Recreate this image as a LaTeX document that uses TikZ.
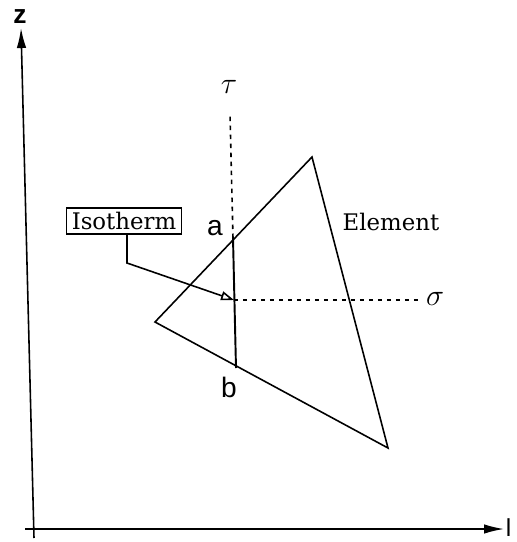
\documentclass[tikz,border=0pt]{standalone}
\usepackage{fontspec}
\setmainfont{DejaVu Serif}
\setsansfont{Liberation Sans}
\usetikzlibrary{arrows.meta,positioning}

\begin{document}
\begin{tikzpicture}[
        x=0.02cm, y=-0.02cm,
        line width=0.9pt,
        axis/.style={-{Latex[length=4mm,width=1.9mm]}},
        guide/.style={dash pattern=on 0.9mm off 0.9mm},
        leader/.style={-{Triangle[open,length=2.6mm,width=1.8mm]}},
        tag/.style={
            draw,
            line width=1pt,
            inner xsep=3pt,
            inner ysep=2.5pt,
            font=\fontsize{13}{15}\selectfont
        },
        ptlabel/.style={font=\sffamily\fontsize{16}{18}\selectfont},
        greek/.style={font=\fontsize{16}{18}\selectfont}
    ]
    \useasboundingbox (0,0) rectangle (517,542);

    % axes
    \coordinate (zfoot) at (34,538);
    \coordinate (ztip) at (21,28);
    \coordinate (lfoot) at (25,529);
    \coordinate (ltip) at (504,529);
    \draw[axis] (zfoot) -- (ztip);
    \draw[axis] (lfoot) -- (ltip);
    \node[ptlabel, font=\sffamily\bfseries\fontsize{15}{18}\selectfont] (zlabel) at (20,17) {z};
    \node[font=\sffamily\fontsize{14}{16}\selectfont, anchor=base east, inner sep=1pt] (llabel) at (514,536) {l};

    % element
    \coordinate (top) at (312,157);
    \coordinate (left) at (155,322);
    \coordinate (bottom) at (388,448);
    \draw (top) -- (left) -- (bottom) -- cycle;
    \node[font=\fontsize{13}{15}\selectfont] (element) at (391,222) {Element};

    % local axes
    \coordinate (orig) at (234,300);
    \coordinate (tauend) at (230,114);
    \coordinate (sigend) at (421,300);
    \coordinate (a) at (233,238);
    \coordinate (b) at (236,368);
    \draw[guide] (a) -- (tauend);
    \draw[guide] (orig) -- (sigend);
    \node[greek] (tau) at (229,87) {$\tau$};
    \node[greek] (sigma) at (435,299) {$\sigma$};

    % isotherm
    \draw[line width=1.1pt] (a) -- (b);
    \node[ptlabel] (alabel) at (215,228) {a};
    \node[ptlabel] (blabel) at (229,387) {b};
    \node[tag] (iso) at (124,221) {Isotherm};
    \coordinate (bend) at (127,263);
    \draw[leader] (iso.south -| bend) -- (bend) -- (orig);

\end{tikzpicture}
\end{document}
